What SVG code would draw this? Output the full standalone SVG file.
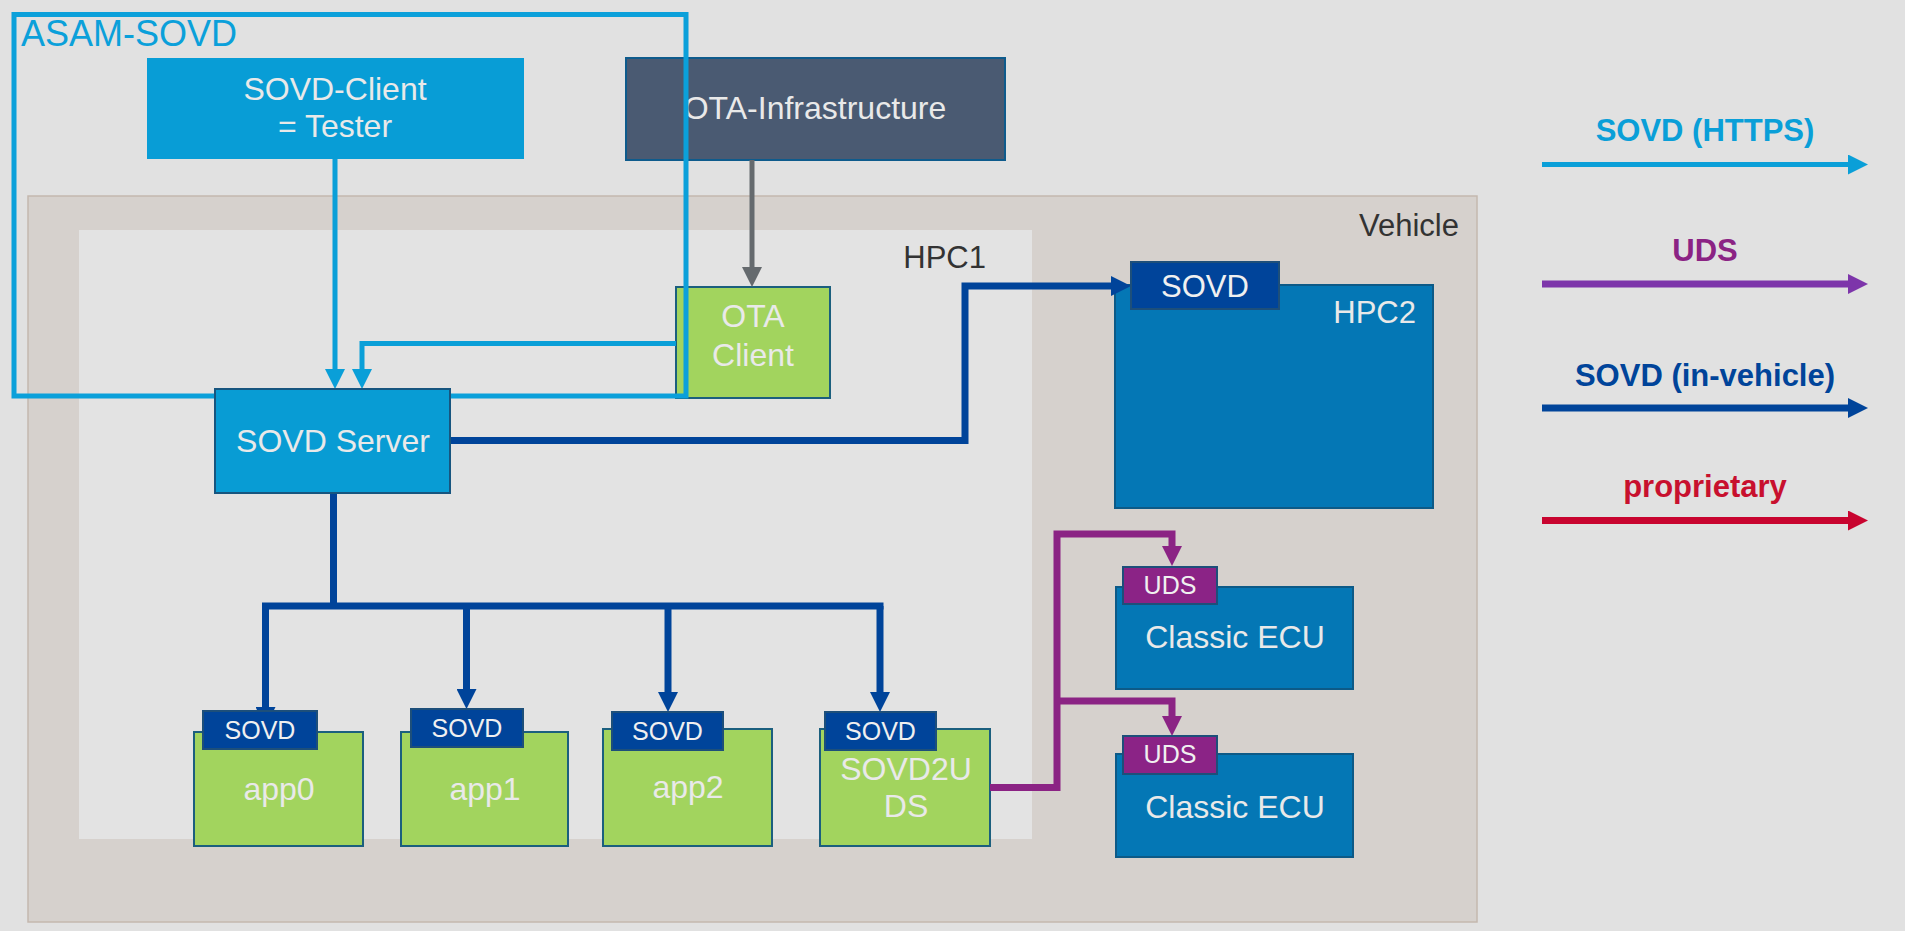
<svg xmlns="http://www.w3.org/2000/svg" width="1905" height="931" viewBox="0 0 1905 931">
<defs>
<style>
.t{font-family:"Liberation Sans",Arial,sans-serif;}
.lbl{font-family:"Liberation Sans",Arial,sans-serif;font-size:32px;fill:#e9e9e9;text-anchor:middle;}
.tag{font-family:"Liberation Sans",Arial,sans-serif;font-size:25px;fill:#f0f0f0;text-anchor:middle;}
.leg{font-family:"Liberation Sans",Arial,sans-serif;font-size:31px;font-weight:bold;text-anchor:middle;}
.dark{font-family:"Liberation Sans",Arial,sans-serif;font-size:31px;fill:#333333;}
.bluebox{fill:#089cd4;stroke:#17557f;stroke-width:2;}
.ecu{fill:#0477b5;stroke:#0d5a87;stroke-width:2;}
.green{fill:#a2d45e;stroke:#1b5f7e;stroke-width:2;}
.sovdtag{fill:#00449a;stroke:#1d4f7a;stroke-width:2;}
.udstag{fill:#8b2386;stroke:#1d4f7a;stroke-width:2;}
.c{fill:none;stroke-linejoin:miter;}
.lb{stroke:#0a9fd8;stroke-width:5;}
.gr{stroke:#656a6e;stroke-width:5;}
.db{stroke:#00449a;stroke-width:7;}
.pu{stroke:#8b2384;stroke-width:7;}
</style>
<marker id="aLB" markerUnits="userSpaceOnUse" markerWidth="20" markerHeight="20" refX="10" refY="10" orient="auto" viewBox="0 0 20 20"><path d="M0,0 L20,10 L0,20 z" fill="#0a9fd8"/></marker>
<marker id="aGR" markerUnits="userSpaceOnUse" markerWidth="20" markerHeight="20" refX="10" refY="10" orient="auto" viewBox="0 0 20 20"><path d="M0,0 L20,10 L0,20 z" fill="#656a6e"/></marker>
<marker id="aDB" markerUnits="userSpaceOnUse" markerWidth="20" markerHeight="20" refX="10" refY="10" orient="auto" viewBox="0 0 20 20"><path d="M0,0 L20,10 L0,20 z" fill="#00449a"/></marker>
<marker id="aPU" markerUnits="userSpaceOnUse" markerWidth="20" markerHeight="20" refX="10" refY="10" orient="auto" viewBox="0 0 20 20"><path d="M0,0 L20,10 L0,20 z" fill="#8b2384"/></marker>
<marker id="aLV" markerUnits="userSpaceOnUse" markerWidth="20" markerHeight="20" refX="10" refY="10" orient="auto" viewBox="0 0 20 20"><path d="M0,0 L20,10 L0,20 z" fill="#7d35aa"/></marker>
<marker id="aRD" markerUnits="userSpaceOnUse" markerWidth="20" markerHeight="20" refX="10" refY="10" orient="auto" viewBox="0 0 20 20"><path d="M0,0 L20,10 L0,20 z" fill="#c8042f"/></marker>
</defs>
<rect x="0" y="0" width="1905" height="931" fill="#e1e1e1"/>

<g id="vehicle">
<rect x="28" y="196" width="1449" height="726" fill="#d6d1cd" stroke="#c4b8ae" stroke-width="1.5"/>
<text class="dark" x="1459" y="236" text-anchor="end">Vehicle</text>
</g>
<g id="hpc1">
<rect x="79" y="230" width="953" height="609" fill="#e3e3e3"/>
<text class="dark" x="986" y="268" text-anchor="end">HPC1</text>
</g>

<g id="sovd-client">
<rect x="147" y="58" width="377" height="101" fill="#089dd6"/>
<text class="lbl" x="335" y="100">SOVD-Client</text>
<text class="lbl" x="335" y="137">= Tester</text>
</g>
<g id="ota-infrastructure">
<rect x="626" y="58" width="379" height="102" fill="#4a5a72" stroke="#0e5b8c" stroke-width="2"/>
<text class="lbl" x="815" y="119">OTA-Infrastructure</text>
</g>
<g id="ota-client">
<rect x="676" y="287" width="154" height="111" class="green"/>
<text class="lbl" x="753" y="327">OTA</text>
<text class="lbl" x="753" y="366">Client</text>
</g>
<g id="hpc2">
<rect x="1115" y="285" width="318" height="223" class="ecu"/>
<text class="t" x="1416" y="323" font-size="31" fill="#e9e9e9" text-anchor="end">HPC2</text>
</g>
<g id="classic-ecu-1">
<rect x="1116" y="587" width="237" height="102" class="ecu"/>
<text class="lbl" x="1235" y="648">Classic ECU</text>
</g>
<g id="classic-ecu-2">
<rect x="1116" y="754" width="237" height="103" class="ecu"/>
<text class="lbl" x="1235" y="818">Classic ECU</text>
</g>
<g id="app0">
<rect x="194" y="732" width="169" height="114" class="green"/>
<text class="lbl" x="279" y="800">app0</text>
</g>
<g id="app1">
<rect x="401" y="732" width="167" height="114" class="green"/>
<text class="lbl" x="485" y="800">app1</text>
</g>
<g id="app2">
<rect x="603" y="729" width="169" height="117" class="green"/>
<text class="lbl" x="688" y="798">app2</text>
</g>
<g id="sovd2uds">
<rect x="820" y="729" width="170" height="117" class="green"/>
<text class="lbl" x="906" y="780">SOVD2U</text>
<text class="lbl" x="906" y="817">DS</text>
</g>

<g id="connectors">
<path class="c lb" d="M335,159 L335,379" marker-end="url(#aLB)"/>
<path class="c lb" d="M676,343.5 L362,343.5 L362,379" marker-end="url(#aLB)"/>
<path class="c gr" d="M752,160 L752,277" marker-end="url(#aGR)"/>
<path class="c db" d="M450,440.5 L965,440.5 L965,286 L1121,286" marker-end="url(#aDB)"/>
<path class="c db" d="M333.5,493 L333.5,606"/>
<path class="c db" d="M262,606 L883.5,606" stroke-width="8"/>
<path class="c db" d="M265.5,606 L265.5,717" marker-end="url(#aDB)"/>
<path class="c db" d="M466.5,606 L466.5,699" marker-end="url(#aDB)"/>
<path class="c db" d="M668,606 L668,702" marker-end="url(#aDB)"/>
<path class="c db" d="M880,606 L880,702" marker-end="url(#aDB)"/>
<path class="c pu" d="M990,787.5 L1057,787.5 L1057,534 L1172,534 L1172,556" marker-end="url(#aPU)"/>
<path class="c pu" d="M1057,701 L1172,701 L1172,726" marker-end="url(#aPU)"/>
</g>

<g id="asam-sovd">
<rect x="14" y="14.5" width="672" height="381.5" fill="none" stroke="#0ba0da" stroke-width="5"/>
<text class="t" x="21" y="46" font-size="36" fill="#0ba0da">ASAM-SOVD</text>
</g>

<g id="sovd-server">
<rect x="215" y="389" width="235" height="104" class="bluebox"/>
<text class="lbl" x="333" y="452">SOVD Server</text>
</g>

<g id="tags">
<g id="tag-hpc2"><rect x="1131" y="262" width="148" height="47" class="sovdtag"/><text class="t" x="1205" y="297" font-size="31" fill="#f0f0f0" text-anchor="middle">SOVD</text></g>
<g id="tag-app0"><rect x="203" y="711" width="114" height="38" class="sovdtag"/><text class="tag" x="260" y="739">SOVD</text></g>
<g id="tag-app1"><rect x="411" y="709" width="112" height="38" class="sovdtag"/><text class="tag" x="467" y="737">SOVD</text></g>
<g id="tag-app2"><rect x="612" y="712" width="111" height="38" class="sovdtag"/><text class="tag" x="667.5" y="740">SOVD</text></g>
<g id="tag-sovd2uds"><rect x="825" y="712" width="111" height="38" class="sovdtag"/><text class="tag" x="880.5" y="740">SOVD</text></g>
<g id="tag-ecu1"><rect x="1123" y="567" width="94" height="37" class="udstag"/><text class="tag" x="1170" y="594">UDS</text></g>
<g id="tag-ecu2"><rect x="1123" y="736" width="94" height="38" class="udstag"/><text class="tag" x="1170" y="763">UDS</text></g>
</g>

<g id="legend">
<text class="leg" x="1705" y="141" fill="#0a9fd8">SOVD (HTTPS)</text>
<path class="c lb" d="M1542,164.5 L1858,164.5" stroke-width="7" marker-end="url(#aLB)"/>
<text class="leg" x="1705" y="261" fill="#8b2384">UDS</text>
<path class="c" d="M1542,284 L1858,284" stroke="#7d35aa" stroke-width="7" marker-end="url(#aLV)"/>
<text class="leg" x="1705" y="386" fill="#00449a">SOVD (in-vehicle)</text>
<path class="c db" d="M1542,408 L1858,408" marker-end="url(#aDB)"/>
<text class="leg" x="1705" y="497" fill="#c8102e">proprietary</text>
<path class="c" d="M1542,520.5 L1858,520.5" stroke="#c8042f" stroke-width="7" marker-end="url(#aRD)"/>
</g>
</svg>
